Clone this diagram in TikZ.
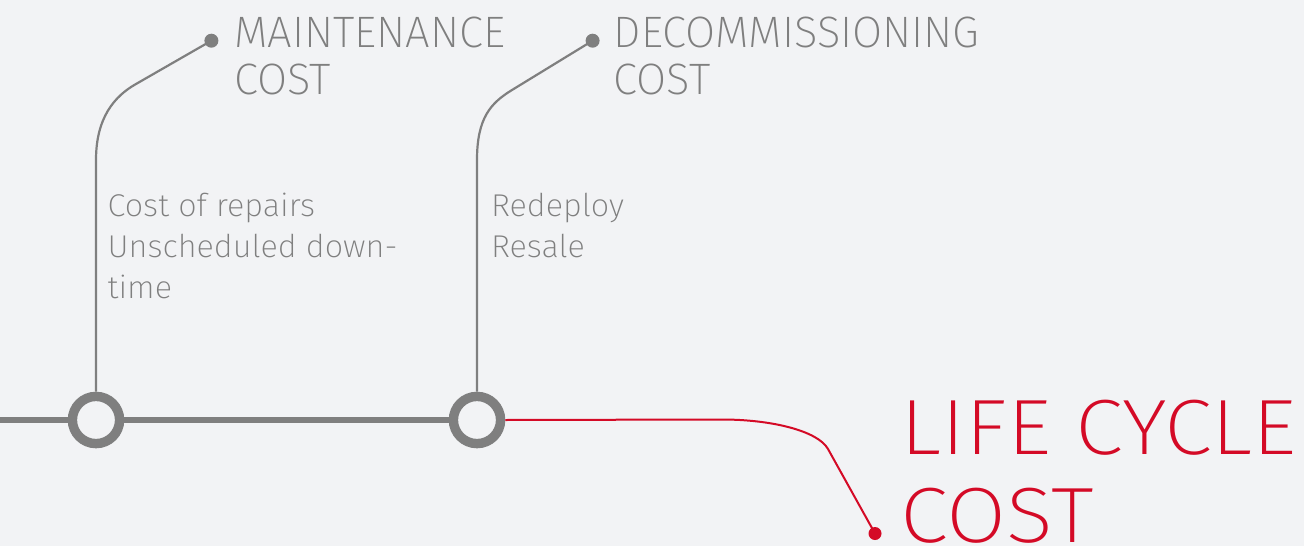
\documentclass[tikz,border=0pt]{standalone}
\usepackage{fontspec}
\setmainfont{Fira Sans ExtraLight}
\newfontfamily\headfont{Fira Sans ExtraLight}[FakeStretch=0.99]
\newfontfamily\subfont{Fira Sans ExtraLight}[FakeStretch=1.03]
\newfontfamily\bigfont{Fira Sans ExtraLight}[FakeStretch=1.11]
\definecolor{bg}{RGB}{242,243,245}
\definecolor{lcgray}{RGB}{127,127,127}
\definecolor{lcred}{RGB}{212,10,38}
\tikzset{
  ring/.style={circle,draw=lcgray,line width=9.4pt,fill=bg,minimum size=47.2pt,inner sep=0pt},
  gdot/.style={circle,fill=lcgray,minimum size=14pt,inner sep=0pt},
  rdot/.style={circle,fill=lcred,minimum size=13pt,inner sep=0pt},
  mainline/.style={draw=lcgray,line width=5.3pt},
  branch/.style={draw=lcgray,line width=2.2pt},
  redline/.style={draw=lcred,line width=2pt},
  headlabel/.style={anchor=base west,inner sep=0pt,align=left,text=lcgray,font=\headfont\fontsize{44}{46.7}\selectfont},
  sublabel/.style={anchor=base west,inner sep=0pt,align=left,text=lcgray,font=\subfont\fontsize{31.5}{41}\selectfont},
  biglabel/.style={anchor=base west,inner sep=0pt,align=left,text=lcred,font=\bigfont\fontsize{78.4}{88.7}\selectfont}
}
\begin{document}
\begin{tikzpicture}[x=1pt,y=-1pt]
\fill[bg] (0,0) rectangle (1304,546);
\useasboundingbox (0,0) rectangle (1304,546);
\coordinate (start) at (0,420);
\node[ring] (c1) at (96,420) {};
\node[ring] (c2) at (477,420) {};
\node[gdot] (d1) at (211.4,40.7) {};
\node[gdot] (d2) at (592.6,40.7) {};
\node[rdot] (r) at (875,533.5) {};
\draw[mainline] (start) -- (c1.west);
\draw[mainline] (c1.east) -- (c2.west);
\draw[branch] (c1.north) -- (96,160) .. controls (96,118) and (114.2,96.3) .. (136,84) -- (d1.center);
\draw[branch] (c2.north) -- (477,160) .. controls (477,118) and (490.7,103) .. (512,90) -- (d2.center);
\draw[redline] (c2.east) -- (722,419.5) .. controls (772,419.5) and (818,431) .. (828,449) -- (r.center);
\node[headlabel] (maint) at (234,94.3) {MAINTENANCE\\COST};
\node[headlabel] (decom) at (613.5,94.3) {DECOMMISSIONING\\COST};
\node[sublabel] (repairs) at (107.5,298.3) {Cost of repairs\\Unscheduled down-\\time};
\node[sublabel] (resale) at (491,257.3) {Redeploy\\Resale};
\node[biglabel] (lcc) at (900.5,542.7) {LIFE CYCLE\\COST};
\end{tikzpicture}
\end{document}
